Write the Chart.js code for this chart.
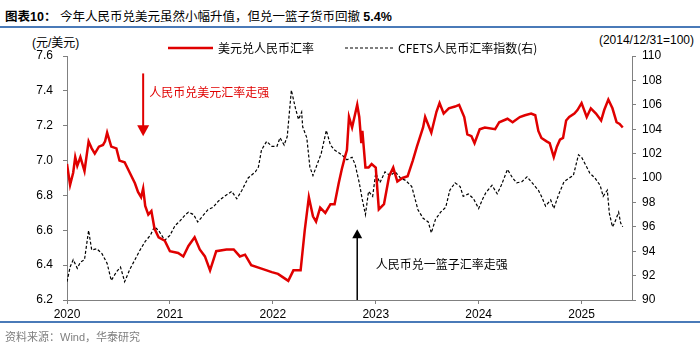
<!DOCTYPE html>
<html>
<head>
<meta charset="utf-8">
<script src="https://cdn.jsdelivr.net/npm/chart.js@4.4.1/dist/chart.umd.min.js"></script>
<style>
    body { margin: 0; width: 700px; height: 347px; position: relative; background: #fff; overflow: hidden;
           font-family: "Liberation Sans", Arial, "Noto Sans CJK SC", sans-serif; }
    #title { position: absolute; left: 5px; top: 6px; font-size: 12.5px; color: #000; white-space: nowrap; }
    #title b { font-weight: bold; }
    .rule { position: absolute; left: 0; width: 700px; height: 2px; background: #4a7ab8; }
    .unit { position: absolute; top: 33px; font-size: 12px; color: #000; }
    #source { position: absolute; left: 5px; top: 328px; font-size: 11px; color: #7f7f7f; }
    #wrap { position: absolute; left: 0; top: 0; width: 700px; height: 347px; }
</style>
</head>
<body>
<div id="title"><b>图表10：</b> 今年人民币兑美元虽然小幅升值，但兑一篮子货币回撤 <b>5.4%</b></div>
<div class="rule" style="top:26px"></div>
<div class="unit" style="left:32px">(元/美元)</div>
<div class="unit" style="right:6px">(2014/12/31=100)</div>
<div id="wrap"><canvas id="fxChart" width="700" height="347"></canvas></div>
<div class="rule" style="top:321px"></div>
<div id="source">资料来源：Wind，华泰研究</div>

<script>
// 美元兑人民币汇率 (左轴)
const usdDates = [
    2020.00, 2020.03, 2020.06, 2020.08, 2020.10, 2020.13, 2020.17, 2020.21, 2020.24, 2020.27,
    2020.31, 2020.35, 2020.37, 2020.39, 2020.43, 2020.48, 2020.51, 2020.56, 2020.61, 2020.66,
    2020.69, 2020.72, 2020.74, 2020.76, 2020.79, 2020.82, 2020.85, 2020.89, 2020.95, 2021.00,
    2021.08, 2021.13, 2021.18, 2021.24, 2021.29, 2021.34, 2021.39, 2021.45, 2021.55, 2021.62,
    2021.68, 2021.73, 2021.79, 2021.89, 2021.99, 2022.05, 2022.10, 2022.15, 2022.20, 2022.27,
    2022.31, 2022.35, 2022.39, 2022.42, 2022.46, 2022.51, 2022.56, 2022.60, 2022.64, 2022.67,
    2022.70, 2022.72, 2022.74, 2022.77, 2022.82, 2022.84, 2022.86, 2022.87, 2022.90, 2022.93,
    2022.96, 2023.00, 2023.03, 2023.08, 2023.13, 2023.17, 2023.21, 2023.26, 2023.31, 2023.36,
    2023.40, 2023.46, 2023.48, 2023.54, 2023.59, 2023.62, 2023.66, 2023.71, 2023.77, 2023.81,
    2023.86, 2023.89, 2023.93, 2023.96, 2024.01, 2024.06, 2024.16, 2024.20, 2024.28, 2024.33,
    2024.40, 2024.45, 2024.51, 2024.55, 2024.58, 2024.61, 2024.66, 2024.69, 2024.73, 2024.76,
    2024.79, 2024.82, 2024.85, 2024.88, 2024.93, 2024.96, 2025.00, 2025.05, 2025.09, 2025.14,
    2025.19, 2025.22, 2025.26, 2025.30, 2025.34, 2025.37, 2025.40
];
const usdRate = [
    6.98, 6.86, 6.93, 7.02, 6.97, 7.02, 6.94, 7.11, 7.07, 7.04,
    7.08, 7.09, 7.11, 7.16, 7.08, 7.07, 7.00, 6.99, 6.93, 6.87,
    6.82, 6.79, 6.84, 6.74, 6.69, 6.71, 6.61, 6.56, 6.54, 6.48,
    6.47, 6.45, 6.51, 6.56, 6.49, 6.45, 6.37, 6.48, 6.49, 6.49,
    6.45, 6.46, 6.40, 6.38, 6.36, 6.35, 6.33, 6.31, 6.37, 6.37,
    6.60, 6.79, 6.68, 6.65, 6.73, 6.70, 6.75, 6.75, 6.87, 6.95,
    7.02, 7.06, 7.25, 7.19, 7.32, 7.25, 7.10, 7.17, 6.96, 6.96,
    6.98, 6.96, 6.72, 6.75, 6.91, 6.96, 6.88, 6.90, 6.91, 7.00,
    7.08, 7.19, 7.25, 7.16, 7.28, 7.33, 7.27, 7.30, 7.31, 7.32,
    7.25, 7.15, 7.14, 7.10, 7.18, 7.19, 7.18, 7.22, 7.24, 7.22,
    7.25, 7.26, 7.27, 7.26, 7.17, 7.13, 7.11, 7.10, 7.02, 7.08,
    7.12, 7.13, 7.23, 7.25, 7.27, 7.29, 7.33, 7.25, 7.30, 7.27,
    7.23, 7.29, 7.35, 7.30, 7.22, 7.21, 7.19
];

// CFETS人民币汇率指数 (右轴)
const cfetsDates = [
    2020.00, 2020.03, 2020.06, 2020.10, 2020.13, 2020.17, 2020.21, 2020.24, 2020.29, 2020.34,
    2020.39, 2020.43, 2020.48, 2020.52, 2020.56, 2020.61, 2020.66, 2020.71, 2020.76, 2020.81,
    2020.85, 2020.89, 2020.95, 2021.00, 2021.05, 2021.10, 2021.15, 2021.18, 2021.23, 2021.27,
    2021.31, 2021.37, 2021.42, 2021.47, 2021.53, 2021.60, 2021.65, 2021.70, 2021.76, 2021.83,
    2021.86, 2021.89, 2021.94, 2021.99, 2022.04, 2022.07, 2022.11, 2022.14, 2022.18, 2022.22,
    2022.25, 2022.28, 2022.29, 2022.33, 2022.36, 2022.39, 2022.43, 2022.47, 2022.52, 2022.56,
    2022.60, 2022.67, 2022.72, 2022.77, 2022.80, 2022.84, 2022.87, 2022.90, 2022.93, 2022.97,
    2023.00, 2023.04, 2023.09, 2023.14, 2023.19, 2023.24, 2023.29, 2023.35, 2023.41, 2023.46,
    2023.51, 2023.54, 2023.58, 2023.63, 2023.68, 2023.72, 2023.77, 2023.82, 2023.85, 2023.90,
    2023.95, 2024.00, 2024.04, 2024.07, 2024.13, 2024.18, 2024.22, 2024.28, 2024.33, 2024.37,
    2024.42, 2024.47, 2024.52, 2024.55, 2024.58, 2024.61, 2024.65, 2024.70, 2024.73, 2024.78,
    2024.83, 2024.88, 2024.92, 2024.97, 2025.00, 2025.05, 2025.08, 2025.13, 2025.18, 2025.21,
    2025.25, 2025.27, 2025.30, 2025.32, 2025.36, 2025.38, 2025.40
];
const cfetsIndex = [
    91.5, 92.7, 93.3, 92.6, 93.1, 93.3, 95.7, 94.1, 94.2, 93.8,
    93.0, 91.6, 92.3, 92.7, 91.5, 92.5, 93.3, 94.1, 94.8, 95.3,
    96.0, 95.7, 94.9, 95.3, 96.1, 96.5, 97.0, 97.2, 97.0, 96.4,
    96.8, 97.4, 97.6, 98.1, 98.5, 98.9, 98.3, 99.0, 100.0, 100.5,
    100.9, 102.3, 103.0, 102.6, 102.6, 103.3, 102.7, 103.4, 107.2, 105.7,
    104.8, 105.4, 104.2, 103.3, 100.9, 100.2, 101.1, 102.0, 103.9, 102.7,
    102.3, 101.9, 101.5, 101.7, 101.1, 99.6, 98.2, 97.0, 98.9, 98.5,
    100.4, 99.6, 100.5, 100.2, 100.5, 100.0, 99.8, 99.3, 97.4, 96.7,
    96.4, 95.5, 96.6, 97.2, 97.6, 99.0, 99.6, 99.3, 98.5, 98.7,
    98.3, 97.5, 98.3, 98.8, 99.4, 98.7, 99.4, 100.7, 100.0, 99.6,
    99.7, 100.1, 99.6, 99.3, 99.0, 98.5, 97.7, 98.2, 97.5, 98.7,
    99.7, 100.0, 100.2, 101.9, 101.7, 100.9, 100.4, 100.0, 99.4, 98.5,
    99.0, 97.1, 96.0, 96.3, 97.2, 96.3, 96.0
];

const yearTicks = [2020, 2021, 2022, 2023, 2024, 2025];

const tickFont = { family: '"Liberation Sans", Arial, sans-serif', size: 12 };
const cjkFont = '12px "Noto Sans CJK SC", sans-serif';

// 图例 + 箭头注释
const overlayPlugin = {
    id: 'overlay',
    afterDraw(chart) {
        const ctx = chart.ctx;
        const xs = chart.scales.x, yl = chart.scales.y, yr = chart.scales.y1;
        const ds = chart.data.datasets;
        ctx.save();

        // legend
        ctx.font = cjkFont;
        ctx.textBaseline = 'middle';
        ctx.textAlign = 'left';
        const legendItems = [[168, 45], [345, 48]];
        ds.forEach((d, i) => {
            const [lx, lw] = legendItems[i];
            ctx.beginPath();
            ctx.strokeStyle = d.borderColor;
            ctx.lineWidth = d.borderWidth;
            ctx.setLineDash(d.borderDash || []);
            ctx.moveTo(lx, 48);
            ctx.lineTo(lx + lw, 48);
            ctx.stroke();
            ctx.setLineDash([]);
            ctx.fillStyle = '#000';
            ctx.fillText(d.label, lx + lw + 5, 48);
        });

        // 红色向下箭头
        const ax1 = xs.getPixelForValue(2020.74);
        const top1 = yl.getPixelForValue(7.50);
        const tip1 = yl.getPixelForValue(7.14);
        ctx.strokeStyle = '#e00000';
        ctx.fillStyle = '#e00000';
        ctx.lineWidth = 2;
        ctx.beginPath();
        ctx.moveTo(ax1, top1);
        ctx.lineTo(ax1, tip1 - 8);
        ctx.stroke();
        ctx.beginPath();
        ctx.moveTo(ax1 - 6, tip1 - 11);
        ctx.lineTo(ax1 + 6, tip1 - 11);
        ctx.lineTo(ax1, tip1);
        ctx.closePath();
        ctx.fill();
        ctx.fillText('人民币兑美元汇率走强', xs.getPixelForValue(2020.80), yl.getPixelForValue(7.39));

        // 黑色向上箭头
        const ax2 = xs.getPixelForValue(2022.82);
        const bot2 = yr.getPixelForValue(90);
        const tip2 = yr.getPixelForValue(95.8);
        ctx.strokeStyle = '#000';
        ctx.fillStyle = '#000';
        ctx.lineWidth = 1.5;
        ctx.beginPath();
        ctx.moveTo(ax2, bot2);
        ctx.lineTo(ax2, tip2 + 6);
        ctx.stroke();
        ctx.beginPath();
        ctx.moveTo(ax2 - 5, tip2 + 9);
        ctx.lineTo(ax2 + 5, tip2 + 9);
        ctx.lineTo(ax2, tip2);
        ctx.closePath();
        ctx.fill();
        ctx.fillText('人民币兑一篮子汇率走强', xs.getPixelForValue(2023.0), yr.getPixelForValue(92.95));

        ctx.restore();
    }
};

const axisGrid = { display: true, drawOnChartArea: false, drawTicks: true, tickLength: 4, color: '#808080' };
const axisBorder = { display: true, color: '#808080', width: 1 };

new Chart(document.getElementById('fxChart'), {
    type: 'line',
    data: {
        datasets: [
            {
                label: '美元兑人民币汇率',
                data: usdDates.map((d, i) => ({ x: d, y: usdRate[i] })),
                borderColor: '#e00000',
                borderWidth: 2.5,
                pointRadius: 0,
                tension: 0,
                yAxisID: 'y'
            },
            {
                label: 'CFETS人民币汇率指数(右)',
                data: cfetsDates.map((d, i) => ({ x: d, y: cfetsIndex[i] })),
                borderColor: '#000000',
                borderWidth: 1.2,
                borderDash: [3, 2],
                pointRadius: 0,
                tension: 0,
                yAxisID: 'y1'
            }
        ]
    },
    options: {
        responsive: false,
        animation: false,
        devicePixelRatio: 1,
        layout: { padding: { top: 56, bottom: 27, left: 0, right: 0 } },
        plugins: {
            legend: { display: false },
            tooltip: { enabled: false }
        },
        scales: {
            x: {
                type: 'linear',
                min: 2020,
                max: 2025.49,
                grid: axisGrid,
                border: axisBorder,
                afterBuildTicks: s => { s.ticks = yearTicks.map(v => ({ value: v })); },
                afterFit: s => { s.height = 20; },
                ticks: {
                    includeBounds: false,
                    maxRotation: 0,
                    padding: 3,
                    color: '#000',
                    font: tickFont,
                    callback: v => String(v)
                }
            },
            y: {
                position: 'left',
                min: 6.2,
                max: 7.6,
                grid: axisGrid,
                border: axisBorder,
                afterFit: s => { s.width = 67; },
                ticks: {
                    stepSize: 0.2,
                    padding: 10,
                    color: '#000',
                    font: tickFont,
                    callback: v => v.toFixed(1)
                }
            },
            y1: {
                position: 'right',
                min: 90,
                max: 110,
                grid: axisGrid,
                border: axisBorder,
                afterFit: s => { s.width = 68; },
                ticks: {
                    stepSize: 2,
                    padding: 6,
                    color: '#000',
                    font: tickFont
                }
            }
        }
    },
    plugins: [overlayPlugin]
});
</script>
</body>
</html>
